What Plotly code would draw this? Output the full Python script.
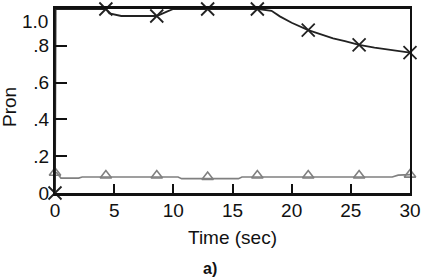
import plotly.graph_objects as go

# Black curve (line) samples
black_t = [0, 0.05, 4.3, 4.6, 5.6, 8.1, 8.6, 9.5, 10.0, 17.2, 18.3, 19.0, 20.0, 21.4, 22.5, 23.5, 24.5, 25.7, 27.0, 28.0, 29.0, 30.0]
black_v = [0.0, 1.0, 1.0, 0.976, 0.962, 0.96, 0.962, 0.987, 1.0, 1.0, 0.99, 0.96, 0.925, 0.885, 0.86, 0.84, 0.825, 0.805, 0.79, 0.78, 0.77, 0.763]
# Cross markers
cross_t = [0, 4.3, 8.6, 12.9, 17.1, 21.4, 25.7, 30.0]
cross_v = [0.0, 1.0, 0.962, 1.0, 1.0, 0.885, 0.805, 0.763]

# Gray curve samples
gray_t = [0, 0.15, 0.5, 2.0, 2.3, 10.4, 10.7, 15.5, 15.8, 28.5, 29.0, 30.0]
gray_v = [0.112, 0.11, 0.081, 0.081, 0.087, 0.087, 0.078, 0.078, 0.087, 0.087, 0.097, 0.10]
# Triangle markers
tri_t = [0, 4.3, 8.6, 12.9, 17.1, 21.4, 25.7, 30.0]
tri_v = [0.11, 0.095, 0.095, 0.087, 0.095, 0.095, 0.095, 0.10]

x_ticks = [0, 5, 10, 15, 20, 25, 30]
y_ticks = [0, 0.2, 0.4, 0.6, 0.8]
y_ticktext = ["0", ".2", ".4", ".6", ".8"]

FONT = "Liberation Sans, Arial, sans-serif"
FS = 19

fig = go.Figure()
fig.add_trace(go.Scatter(x=gray_t, y=gray_v, mode="lines",
                         line=dict(color="#808080", width=1.6), cliponaxis=False, showlegend=False))
fig.add_trace(go.Scatter(x=tri_t, y=tri_v, mode="markers",
                         marker=dict(symbol="triangle-up-open", size=10, color="#808080",
                                     line=dict(width=1.6, color="#808080")),
                         cliponaxis=False, showlegend=False))
fig.add_trace(go.Scatter(x=black_t, y=black_v, mode="lines",
                         line=dict(color="#222222", width=1.8), cliponaxis=False, showlegend=False))
fig.add_trace(go.Scatter(x=cross_t, y=cross_v, mode="markers",
                         marker=dict(symbol="x-thin", size=13, color="#222222",
                                     line=dict(width=1.8, color="#222222")),
                         cliponaxis=False, showlegend=False))

fig.update_layout(
    width=427, height=277,
    margin=dict(l=55, r=10, t=6, b=84),
    paper_bgcolor="white", plot_bgcolor="white",
    font=dict(family=FONT, size=FS, color="#111111"),
    xaxis=dict(range=[0, 30], tickvals=x_ticks, ticks="inside", ticklen=9, tickwidth=1.5,
               tickcolor="#111111", showline=True, linewidth=2.5, linecolor="#111111",
               mirror=True, showgrid=False, zeroline=False, ticklabeloverflow="allow",
               ticklabelstandoff=-2, tickfont=dict(family=FONT, size=FS)),
    yaxis=dict(range=[0, 1.0], tickvals=y_ticks, ticktext=y_ticktext, ticks="inside",
               ticklen=12, tickwidth=1.5, tickcolor="#111111", showline=True, linewidth=2,
               linecolor="#111111", mirror=True, showgrid=False, zeroline=False,
               ticklabeloverflow="allow", tickfont=dict(family=FONT, size=FS)),
    annotations=[
        dict(text="1.0", xref="paper", yref="y", x=0, y=1.0, xanchor="right", yanchor="middle",
             xshift=-5, yshift=-12, showarrow=False, font=dict(family=FONT, size=FS)),
        dict(text="Time (sec)", xref="paper", yref="paper", x=0.5, y=0, xanchor="center",
             yanchor="middle", yshift=-44, showarrow=False, font=dict(family=FONT, size=FS)),
        dict(text="Pron", xref="paper", yref="paper", x=0, y=0.5, xanchor="center",
             yanchor="middle", xshift=-46, yshift=-6, textangle=-90, showarrow=False,
             font=dict(family=FONT, size=FS)),
        dict(text="<b>a)</b>", xref="paper", yref="paper", x=0.5, y=0, xanchor="center",
             yanchor="middle", xshift=-23, yshift=-75, showarrow=False, font=dict(family=FONT, size=16)),
    ],
)

fig.write_html("out.html", config={"displayModeBar": False},
               post_script="document.body.style.margin='0';document.body.style.padding='0';")
